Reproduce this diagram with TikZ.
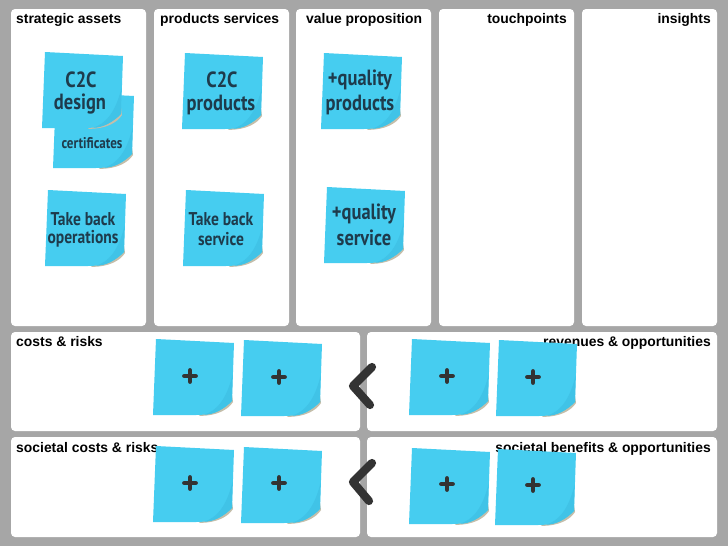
\documentclass[tikz,border=0pt]{standalone}
\usepackage{fontspec}
\setmainfont{Liberation Sans}
\newfontfamily\notefont[FakeStretch=0.84]{PT Sans}
\definecolor{canvas}{HTML}{A6A6A6}
\definecolor{notefill}{HTML}{46CDF0}
\definecolor{notedark}{HTML}{40C3E7}
\definecolor{noteink}{HTML}{1E3B4C}
\definecolor{curlshade}{HTML}{C4BEAA}
\tikzset{
  panel/.style={fill=white,rounded corners=4pt},
  heading/.style={font=\bfseries\fontsize{13.9}{14}\selectfont,text=black,inner sep=0pt},
  note text/.style={font=\notefont\bfseries\fontsize{#1}{#1}\selectfont,text=noteink,inner sep=0pt},
  plus sign/.style={line width=4.8pt,draw=black!80,line cap=round},
  chevron/.style={line width=8.2pt,draw=black!80,line cap=round,line join=round},
  sticky/.pic={
    \fill[curlshade] (44,76.8) .. controls (60,77) and (72,71) .. (77,63) -- (76,56) -- (40,74) -- cycle;
    \fill[notefill] (0,0) -- (78,4) -- (76,62) .. controls (68,70) and (58,76) .. (40,76)
      -- (-3,76) -- cycle;
    \fill[notedark] (76,62) .. controls (68,70) and (58,76) .. (48,75.7) .. controls (60,72) and (70,62) .. (76.5,36) -- cycle;
  },
}
\begin{document}
\begin{tikzpicture}[x=1pt,y=-1pt]
  \useasboundingbox[fill=canvas] (0,0) rectangle (728,546);
  % top columns
  \foreach \left/\right/\id in {11/146/a,154/289/b,296/431/c,439/574/d,582/717/e}
    \fill[panel] (\left,9) rectangle (\right,326);
  % lower rows
  \fill[panel] (11,332) rectangle (360,431);
  \fill[panel] (367,332) rectangle (717,431);
  \fill[panel] (11,437) rectangle (360,537);
  \fill[panel] (367,437) rectangle (717,537);

  \node[heading,anchor=base west] (assets) at (16,23.5) {strategic assets};
  \node[heading,anchor=base west] (products) at (160,23.5) {products services};
  \node[heading,anchor=base west] (value) at (306,23.5) {value proposition};
  \node[heading,anchor=base east] (touch) at (567,23.5) {touchpoints};
  \node[heading,anchor=base east] (insights) at (711,23.5) {insights};
  \node[heading,anchor=base west] (costs) at (16,346) {costs \& risks};
  \node[heading,anchor=base east] (revenues) at (711,346) {revenues \& opportunities};
  \node[heading,anchor=base west] (soccosts) at (16,452) {societal costs \& risks};
  \node[heading,anchor=base east] (socbenefits) at (711,452) {societal benefits \& opportunities};

  % stickies with text
  \pic at (56,92) {sticky};
  \pic at (45,52) {sticky};
  \pic at (48,190) {sticky};
  \pic at (185,53) {sticky};
  \pic at (186,190) {sticky};
  \pic at (324,53) {sticky};
  \pic at (327,187) {sticky};

  \node[note text=15.5] (cert) at (92,143) {certificates};
  \node[note text=22] (design1) at (81,80) {C2C};
  \node[note text=22] (design2) at (80,104) {design};
  \node[note text=18.5] (back1) at (83,219) {Take back};
  \node[note text=18.5] (back2) at (83,239) {operations};
  \node[note text=22] (prod1) at (222,80) {C2C};
  \node[note text=22] (prod2) at (221,105) {products};
  \node[note text=18.5] (serv1) at (221,219) {Take back};
  \node[note text=18.5] (serv2) at (221,239) {service};
  \node[note text=22] (qual1) at (360,80) {+quality};
  \node[note text=22] (qual2) at (360,105) {products};
  \node[note text=22] (qual3) at (364,214) {+quality};
  \node[note text=22] (qual4) at (364,238) {service};

  % empty stickies
  \foreach \px/\py/\cx/\cy in {156/339/190/376, 244/340/279/377, 412/339/447/376, 499/340/533/377,
      156/446/190/483, 244/447/279/483, 412/448/447/484, 498/449/533/485} {
    \pic at (\px,\py) {sticky};
    \draw[plus sign] (\cx-5.5,\cy) -- (\cx+5.5,\cy) (\cx,\cy-5.5) -- (\cx,\cy+5.5);
  }

  \draw[chevron] (372,367) -- (353,386) -- (370,405);
  \draw[chevron] (372,463) -- (353,482) -- (369,501);
\end{tikzpicture}
\end{document}
